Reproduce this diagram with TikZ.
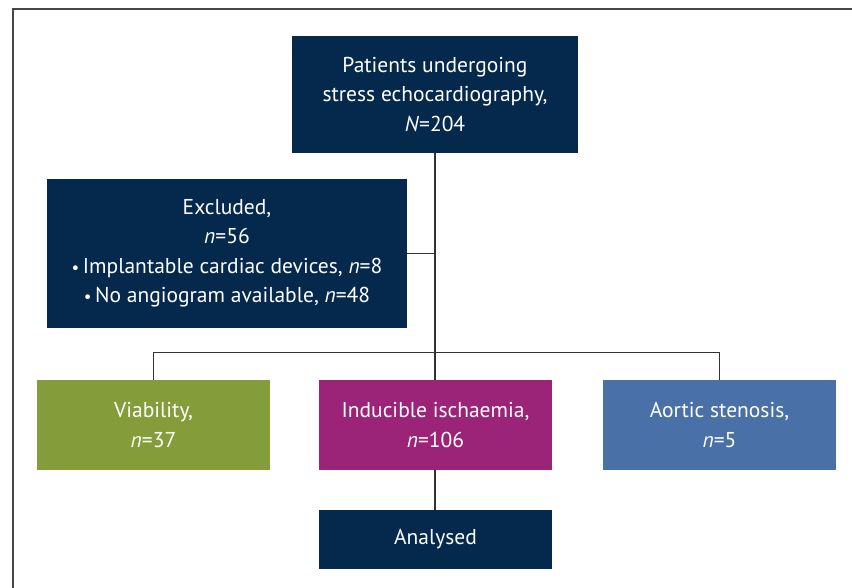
\documentclass[tikz,border=0pt]{standalone}
\usepackage{fontspec}
\setmainfont{PT Sans}
\definecolor{navy}{RGB}{4,41,77}
\definecolor{olive}{RGB}{133,156,58}
\definecolor{plum}{RGB}{155,36,120}
\definecolor{steel}{RGB}{74,112,168}
\definecolor{linegray}{RGB}{51,51,51}
\tikzset{
  box/.style={draw=none, inner sep=0pt, align=center, text=white,
    font=\fontsize{21.5}{29.5}\selectfont},
  conn/.style={draw=linegray, line width=1.6pt},
}
\begin{document}
\begin{tikzpicture}[x=1pt,y=-1pt]
\useasboundingbox (0,0) rectangle (852,588);
\fill[white] (0,0) rectangle (852,588);
\draw[draw=linegray!90, line width=1.2pt] (13,588) -- (13,9) -- (852,9);

\node[box, fill=navy, minimum width=286pt, minimum height=117pt] (top) at (435,94.5)
  {Patients undergoing\\stress echocardiography,\\\textit{N}=204};
\node[box, fill=navy, minimum width=360pt, minimum height=149pt] (excl) at (227,253.5)
  {Excluded,\\\textit{n}=56\\{\fontsize{17}{1}\selectfont\textbullet}\,Implantable cardiac devices, \textit{n}=8\\{\fontsize{17}{1}\selectfont\textbullet}\,No angiogram available, \textit{n}=48};
\node[box, fill=olive, minimum width=233pt, minimum height=90pt] (viab) at (153.5,425)
  {Viability,\\\textit{n}=37};
\node[box, fill=plum, minimum width=233pt, minimum height=90pt] (isch) at (435.5,425)
  {Inducible ischaemia,\\\textit{n}=106};
\node[box, fill=steel, minimum width=233pt, minimum height=90pt] (aort) at (719.5,425)
  {Aortic stenosis,\\\textit{n}=5};
\node[box, fill=navy, minimum width=233pt, minimum height=59pt] (anal) at (435.5,539.5)
  {Analysed};

\coordinate (bus) at (435,352.5);
\draw[conn] (top.south -| bus) -- (bus);
\draw[conn] (excl.east) -- (excl.east -| bus);
\draw[conn] (viab.north) |- (bus) -| (aort.north);
\draw[conn] (bus) -- (isch.north -| bus);
\draw[conn] (isch.south -| bus) -- (anal.north -| bus);
\end{tikzpicture}
\end{document}
